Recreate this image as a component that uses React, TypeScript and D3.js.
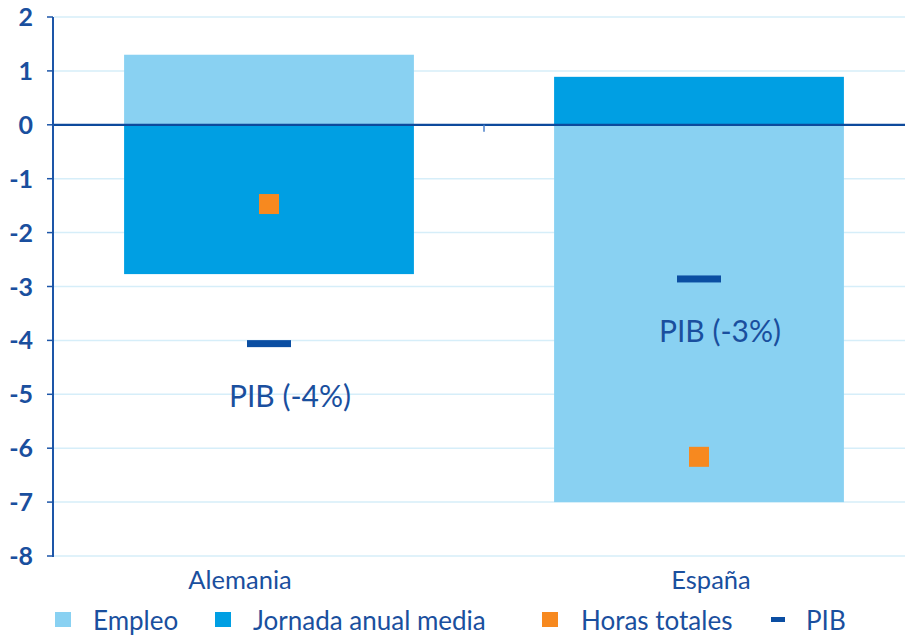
import React, { useEffect, useRef } from 'react';
import * as d3 from 'd3';

const categories = ['Alemania', 'España'];
const empleo = [1.3, -7.0];
const jornada = [-2.77, 0.89];
const horasTotales = [-1.47, -6.16];
const pib = [-4.06, -2.86];
const pibLabels = ['PIB (-4%)', 'PIB (-3%)'];
const yTicks = [2, 1, 0, -1, -2, -3, -4, -5, -6, -7, -8];
const legendItems = ['Empleo', 'Jornada anual media', 'Horas totales', 'PIB'];

const C_EMPLEO = '#89D1F2';
const C_JORNADA = '#009FE3';
const C_HORAS = '#F7891F';
const C_PIB = '#0B4EA2';
const C_TEXT = '#1A4F9E';
const C_AXIS = '#1D56A8';
const C_GRID = '#D6EEF9';
const FONT = 'Lato, "Noto Sans", sans-serif';

const App = () => {
  const svgRef = useRef<SVGSVGElement>(null);

  useEffect(() => {
    const svg = d3.select(svgRef.current);
    const width = 905;
    const margin = { left: 54, top: 17, bottom: 556 };

    const x = d3
      .scaleBand()
      .domain(categories)
      .range([margin.left, margin.left + 860])
      .paddingInner(0.326)
      .paddingOuter(0.163);

    const y = d3.scaleLinear().domain([-8, 2]).range([margin.bottom, margin.top]);

    // gridlines
    svg
      .append('g')
      .selectAll('line')
      .data(yTicks.filter((d) => d !== 0))
      .enter()
      .append('line')
      .attr('x1', margin.left)
      .attr('x2', width)
      .attr('y1', (d) => y(d))
      .attr('y2', (d) => y(d))
      .attr('stroke', C_GRID)
      .attr('stroke-width', 1.5);

    // stacked bars: positives stack up from 0, negatives down
    categories.forEach((c, i) => {
      const parts = [
        { v: empleo[i], color: C_EMPLEO },
        { v: jornada[i], color: C_JORNADA },
      ];
      let pos = 0;
      let neg = 0;
      parts.forEach((p) => {
        let y0, y1;
        if (p.v >= 0) {
          y0 = pos;
          y1 = pos + p.v;
          pos = y1;
        } else {
          y0 = neg;
          y1 = neg + p.v;
          neg = y1;
        }
        svg
          .append('rect')
          .attr('x', x(c)!)
          .attr('width', x.bandwidth())
          .attr('y', y(Math.max(y0, y1)))
          .attr('height', Math.abs(y(y0) - y(y1)))
          .attr('fill', p.color);
      });
    });

    // zero line
    svg
      .append('line')
      .attr('x1', margin.left)
      .attr('x2', width)
      .attr('y1', y(0))
      .attr('y2', y(0))
      .attr('stroke', '#0D4A9C')
      .attr('stroke-width', 2.2);

    // category boundary tick
    svg
      .append('line')
      .attr('x1', margin.left + x.step())
      .attr('x2', margin.left + x.step())
      .attr('y1', y(0))
      .attr('y2', y(0) + 7)
      .attr('stroke', '#4A7FC8')
      .attr('stroke-width', 1.5);

    // horas totales
    svg
      .selectAll('rect.horas')
      .data(horasTotales)
      .enter()
      .append('rect')
      .attr('class', 'horas')
      .attr('x', (d, i) => x(categories[i])! + x.bandwidth() / 2 - 10)
      .attr('y', (d) => y(d) - 10)
      .attr('width', 20)
      .attr('height', 20)
      .attr('fill', C_HORAS);

    // PIB dashes
    svg
      .selectAll('rect.pib')
      .data(pib)
      .enter()
      .append('rect')
      .attr('class', 'pib')
      .attr('x', (d, i) => x(categories[i])! + x.bandwidth() / 2 - 22)
      .attr('y', (d) => y(d) - 3.5)
      .attr('width', 44)
      .attr('height', 7)
      .attr('fill', C_PIB);

    // PIB labels
    svg
      .selectAll('text.pibl')
      .data(pib)
      .enter()
      .append('text')
      .attr('class', 'pibl')
      .attr('x', (d, i) => x(categories[i])! + x.bandwidth() / 2 + 21)
      .attr('y', (d) => y(d) + 63)
      .attr('text-anchor', 'middle')
      .attr('font-family', FONT)
      .attr('font-size', 30)
      .attr('fill', C_TEXT)
      .text((d, i) => pibLabels[i]);

    // y axis
    svg
      .append('line')
      .attr('x1', margin.left - 1)
      .attr('x2', margin.left - 1)
      .attr('y1', margin.top)
      .attr('y2', margin.bottom + 1)
      .attr('stroke', C_AXIS)
      .attr('stroke-width', 2);

    const yAxis = svg.append('g');
    yAxis
      .selectAll('line')
      .data(yTicks)
      .enter()
      .append('line')
      .attr('x1', margin.left - 7)
      .attr('x2', margin.left - 1)
      .attr('y1', (d) => y(d))
      .attr('y2', (d) => y(d))
      .attr('stroke', C_AXIS)
      .attr('stroke-width', 1.5);
    yAxis
      .selectAll('text')
      .data(yTicks)
      .enter()
      .append('text')
      .attr('x', 33)
      .attr('y', (d) => y(d) + 9)
      .attr('text-anchor', 'end')
      .attr('font-family', FONT)
      .attr('font-size', 25)
      .attr('font-weight', 700)
      .attr('fill', C_TEXT)
      .text((d) => String(d));

    // category labels (Excel-style offsets)
    const labelDx = [-29, 12];
    svg
      .selectAll('text.cat')
      .data(categories)
      .enter()
      .append('text')
      .attr('class', 'cat')
      .attr('x', (d, i) => x(d)! + x.bandwidth() / 2 + labelDx[i])
      .attr('y', 589)
      .attr('text-anchor', 'middle')
      .attr('font-family', FONT)
      .attr('font-size', 25.5)
      .attr('fill', C_TEXT)
      .text((d) => d);

    // legend
    const legendX = [55, 215, 542, 771];
    const legendTextX = [93, 253, 581, 806];
    const legendColors = [C_EMPLEO, C_JORNADA, C_HORAS, C_PIB];
    const lg = svg.append('g');
    legendItems.forEach((name, i) => {
      if (i < 3) {
        lg.append('rect')
          .attr('x', legendX[i])
          .attr('y', 612)
          .attr('width', 16)
          .attr('height', 15)
          .attr('fill', legendColors[i]);
      } else {
        lg.append('rect')
          .attr('x', legendX[i])
          .attr('y', 617)
          .attr('width', 14)
          .attr('height', 5)
          .attr('fill', legendColors[i]);
      }
      lg.append('text')
        .attr('x', legendTextX[i])
        .attr('y', 630)
        .attr('font-family', FONT)
        .attr('font-size', 26)
        .attr('fill', C_TEXT)
        .text(name);
    });

    return () => {
      svg.selectAll('*').remove();
    };
  }, []);

  return (
    <svg
      ref={svgRef}
      width={905}
      height={635}
      style={{ position: 'absolute', left: 0, top: 0, background: '#fff' }}
    ></svg>
  );
};

export default App;
